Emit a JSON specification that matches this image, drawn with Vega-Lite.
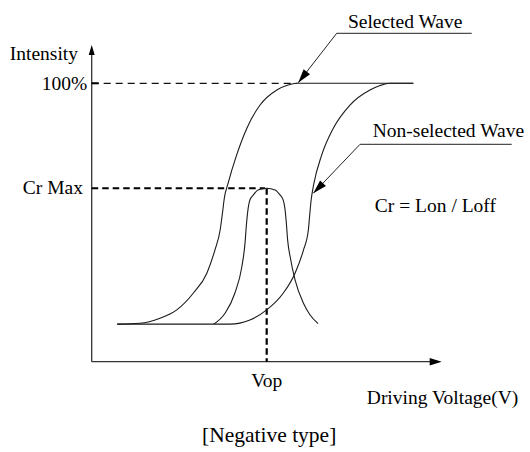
{
  "$schema": "https://vega.github.io/schema/vega-lite/v6.json",
  "width": 530,
  "height": 452,
  "autosize": {"type": "fit", "contains": "padding"},
  "padding": 0,
  "background": "white",
  "config": {"view": {"stroke": null}},
  "encoding": {
    "x": {"field": "v", "type": "quantitative", "scale": {"domain": [-2.62, 12.523], "nice": false, "zero": false}, "axis": null},
    "y": {"field": "i", "type": "quantitative", "scale": {"domain": [-32.43, 129.92], "nice": false, "zero": false}, "axis": null}
  },
  "layer": [
    {
      "data": {"values": [
        {"v": 0, "i": 0, "v2": 9.8, "i2": 0},
        {"v": 0, "i": 0, "v2": 0, "i2": 112}
      ]},
      "mark": {"type": "rule", "color": "#333333", "strokeWidth": 1.3},
      "encoding": {"x2": {"field": "v2"}, "y2": {"field": "i2"}}
    },
    {
      "data": {"values": [{"v": 0, "i": 100, "v2": 5.86, "i2": 100}]},
      "mark": {"type": "rule", "color": "#111111", "strokeWidth": 1.2, "strokeDash": [7, 5]},
      "encoding": {"x2": {"field": "v2"}, "y2": {"field": "i2"}}
    },
    {
      "data": {"values": [{"v": 0, "i": 100, "v2": 0.2, "i2": 100}]},
      "mark": {"type": "rule", "color": "#000000", "strokeWidth": 2},
      "encoding": {"x2": {"field": "v2"}, "y2": {"field": "i2"}}
    },
    {
      "data": {"values": [{"v": 0, "i": 62.3, "v2": 4.95, "i2": 62.3}]},
      "mark": {"type": "rule", "color": "#000000", "strokeWidth": 2, "strokeDash": [6.5, 4]},
      "encoding": {"x2": {"field": "v2"}, "y2": {"field": "i2"}}
    },
    {
      "data": {"values": [{"v": 5.0, "i": 62.3, "v2": 5.0, "i2": 0}]},
      "mark": {"type": "rule", "color": "#000000", "strokeWidth": 2.2, "strokeDash": [6.5, 3.5]},
      "encoding": {"x2": {"field": "v2"}, "y2": {"field": "i2"}}
    },
    {
      "data": {"values": [
        {"wave": "Selected", "v": 0.73, "i": 13.5},
        {"wave": "Selected", "v": 1.38, "i": 13.8},
        {"wave": "Selected", "v": 1.95, "i": 15.6},
        {"wave": "Selected", "v": 2.43, "i": 18.6},
        {"wave": "Selected", "v": 2.90, "i": 24.6},
        {"wave": "Selected", "v": 3.29, "i": 31.8},
        {"wave": "Selected", "v": 3.52, "i": 40.1},
        {"wave": "Selected", "v": 3.67, "i": 47.3},
        {"wave": "Selected", "v": 3.74, "i": 53.8},
        {"wave": "Selected", "v": 3.79, "i": 58.8},
        {"wave": "Selected", "v": 3.89, "i": 63.8},
        {"wave": "Selected", "v": 4.14, "i": 74.2},
        {"wave": "Selected", "v": 4.43, "i": 83.8},
        {"wave": "Selected", "v": 4.81, "i": 92.2},
        {"wave": "Selected", "v": 5.29, "i": 97.6},
        {"wave": "Selected", "v": 5.61, "i": 99.4},
        {"wave": "Selected", "v": 5.86, "i": 100},
        {"wave": "Selected", "v": 9.19, "i": 100},
        {"wave": "Non-selected", "v": 0.73, "i": 13.5},
        {"wave": "Non-selected", "v": 3.95, "i": 13.5},
        {"wave": "Non-selected", "v": 4.52, "i": 15.0},
        {"wave": "Non-selected", "v": 5.00, "i": 18.6},
        {"wave": "Non-selected", "v": 5.47, "i": 24.6},
        {"wave": "Non-selected", "v": 5.81, "i": 31.8},
        {"wave": "Non-selected", "v": 6.05, "i": 40.1},
        {"wave": "Non-selected", "v": 6.19, "i": 47.3},
        {"wave": "Non-selected", "v": 6.23, "i": 52.9},
        {"wave": "Non-selected", "v": 6.27, "i": 58.1},
        {"wave": "Non-selected", "v": 6.34, "i": 63.5},
        {"wave": "Non-selected", "v": 6.57, "i": 74.2},
        {"wave": "Non-selected", "v": 6.90, "i": 83.8},
        {"wave": "Non-selected", "v": 7.38, "i": 92.2},
        {"wave": "Non-selected", "v": 7.95, "i": 97.6},
        {"wave": "Non-selected", "v": 8.24, "i": 99.2},
        {"wave": "Non-selected", "v": 8.52, "i": 100},
        {"wave": "Non-selected", "v": 9.19, "i": 100},
        {"wave": "Contrast", "v": 3.49, "i": 13.5},
        {"wave": "Contrast", "v": 3.81, "i": 17.4},
        {"wave": "Contrast", "v": 4.09, "i": 24.6},
        {"wave": "Contrast", "v": 4.29, "i": 34.1},
        {"wave": "Contrast", "v": 4.38, "i": 42.5},
        {"wave": "Contrast", "v": 4.42, "i": 49.1},
        {"wave": "Contrast", "v": 4.47, "i": 55.1},
        {"wave": "Contrast", "v": 4.52, "i": 58.1},
        {"wave": "Contrast", "v": 4.62, "i": 59.9},
        {"wave": "Contrast", "v": 4.75, "i": 61.7},
        {"wave": "Contrast", "v": 5.00, "i": 62.3},
        {"wave": "Contrast", "v": 5.24, "i": 61.7},
        {"wave": "Contrast", "v": 5.38, "i": 59.9},
        {"wave": "Contrast", "v": 5.47, "i": 58.1},
        {"wave": "Contrast", "v": 5.52, "i": 55.1},
        {"wave": "Contrast", "v": 5.56, "i": 50.0},
        {"wave": "Contrast", "v": 5.60, "i": 43.5},
        {"wave": "Contrast", "v": 5.67, "i": 37.7},
        {"wave": "Contrast", "v": 5.81, "i": 29.4},
        {"wave": "Contrast", "v": 6.05, "i": 21.0},
        {"wave": "Contrast", "v": 6.24, "i": 16.8},
        {"wave": "Contrast", "v": 6.47, "i": 13.7}
      ]},
      "mark": {"type": "line", "color": "#1a1a1a", "strokeWidth": 1.1, "interpolate": "monotone"},
      "encoding": {"detail": {"field": "wave"}}
    },
    {
      "data": {"values": [
        {"label": "Selected Wave", "v": 5.9, "i": 100.2},
        {"label": "Selected Wave", "v": 7.0, "i": 117.96},
        {"label": "Selected Wave", "v": 10.857, "i": 117.96},
        {"label": "Non-selected Wave", "v": 6.331, "i": 60.49},
        {"label": "Non-selected Wave", "v": 7.666, "i": 78.09},
        {"label": "Non-selected Wave", "v": 12.0, "i": 78.09}
      ]},
      "mark": {"type": "line", "color": "#222222", "strokeWidth": 1},
      "encoding": {"detail": {"field": "label"}}
    },
    {
      "data": {"values": [{"v": 0, "i": 113.76}]},
      "mark": {"type": "point", "filled": true, "opacity": 1, "color": "#000000", "shape": "M0,0L-0.3,1L0.3,1Z", "size": 400, "angle": 0}
    },
    {
      "data": {"values": [{"v": 10.0, "i": 0}]},
      "mark": {"type": "point", "filled": true, "opacity": 1, "color": "#000000", "shape": "M0,0L-0.31,1L0.31,1Z", "size": 576, "angle": 90}
    },
    {
      "data": {"values": [{"v": 5.9, "i": 100.2}]},
      "mark": {"type": "point", "filled": true, "opacity": 1, "color": "#000000", "shape": "M0,0L-0.29,1L0.29,1Z", "size": 784, "angle": 218}
    },
    {
      "data": {"values": [{"v": 6.331, "i": 60.49}]},
      "mark": {"type": "point", "filled": true, "opacity": 1, "color": "#000000", "shape": "M0,0L-0.29,1L0.29,1Z", "size": 784, "angle": 224}
    },
    {
      "data": {"values": [
        {"label": "Intensity", "v": -0.39, "i": 108.4},
        {"label": "100%", "v": -0.13, "i": 97.6},
        {"label": "Cr Max", "v": -0.25, "i": 60.1}
      ]},
      "mark": {"type": "text", "font": "Liberation Serif", "fontSize": 19.5, "align": "right", "baseline": "alphabetic", "color": "#000000"},
      "encoding": {"text": {"field": "label"}}
    },
    {
      "data": {"values": [
        {"label": "Selected Wave", "v": 7.32, "i": 119.75},
        {"label": "Non-selected Wave", "v": 8.03, "i": 80.6},
        {"label": "Cr = Lon / Loff", "v": 8.09, "i": 53.9},
        {"label": "Driving Voltage(V)", "v": 7.86, "i": -15.1}
      ]},
      "mark": {"type": "text", "font": "Liberation Serif", "fontSize": 19.5, "align": "left", "baseline": "alphabetic", "color": "#000000"},
      "encoding": {"text": {"field": "label"}}
    },
    {
      "data": {"values": [
        {"label": "Vop", "v": 5.0, "i": -9.1}
      ]},
      "mark": {"type": "text", "font": "Liberation Serif", "fontSize": 19.5, "align": "center", "baseline": "alphabetic", "color": "#000000"},
      "encoding": {"text": {"field": "label"}}
    },
    {
      "data": {"values": [
        {"label": "[Negative type]", "v": 5.07, "i": -28.8}
      ]},
      "mark": {"type": "text", "font": "Liberation Serif", "fontSize": 21.5, "align": "center", "baseline": "alphabetic", "color": "#000000"},
      "encoding": {"text": {"field": "label"}}
    }
  ]
}
